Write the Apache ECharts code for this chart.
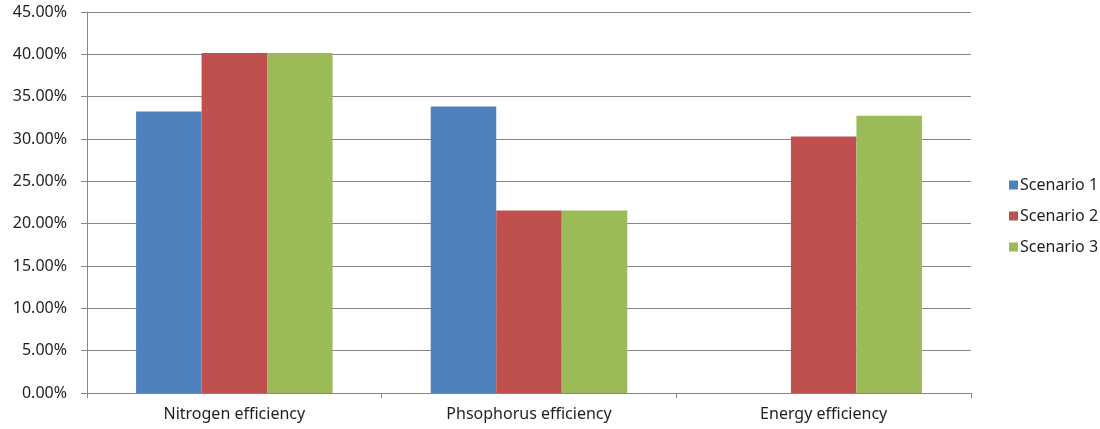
<!DOCTYPE html>
<html>
<head>
<meta charset="utf-8">
<script src="https://cdn.jsdelivr.net/npm/echarts@6/dist/echarts.min.js"></script>
<style>html,body{margin:0;padding:0;background:#fff}#c{width:1100px;height:429px}</style>
</head>
<body>
<div id="c"></div>
<script>
const categories = ['Nitrogen efficiency', 'Phsophorus efficiency', 'Energy efficiency'];
const seriesNames = ['Scenario 1', 'Scenario 2', 'Scenario 3'];
const scenario1 = [33.25, 33.85, null];
const scenario2 = [40.15, 21.55, 30.3];
const scenario3 = [40.15, 21.55, 32.75];
const colors = ['#4F81BD', '#C0504D', '#9BBB59'];
const font = 'Noto Sans';

const chart = echarts.init(document.getElementById('c'), null, {renderer: 'canvas'});
const data = [scenario1, scenario2, scenario3];
chart.setOption({
  animation: false,
  color: colors,
  textStyle: {fontFamily: font},
  grid: {left: 87, right: 129, top: 12, bottom: 36, containLabel: false},
  legend: {
    orient: 'vertical', left: 1004, top: 172,
    itemWidth: 9, itemHeight: 9, itemGap: 15, icon: 'rect',
    textStyle: {fontFamily: font, fontSize: 16, color: '#1f1f1f', padding: [0, 0, 0, -3]},
    data: seriesNames
  },
  xAxis: {
    type: 'category', data: categories,
    axisLine: {lineStyle: {color: '#868686', width: 1}},
    axisTick: {show: true, length: 5, lineStyle: {color: '#868686'}},
    axisLabel: {fontFamily: font, fontSize: 16, color: '#1f1f1f', margin: 13}
  },
  yAxis: {
    type: 'value', min: 0, max: 45, interval: 5,
    axisLine: {show: true, lineStyle: {color: '#868686', width: 1}},
    axisTick: {show: true, length: 6, lineStyle: {color: '#868686'}},
    splitLine: {lineStyle: {color: '#868686', width: 1}},
    axisLabel: {fontFamily: font, fontSize: 16, color: '#1f1f1f', margin: 20,
      formatter: v => v.toFixed(2) + '%'}
  },
  series: seriesNames.map((n, i) => ({
    name: n, type: 'bar', data: data[i],
    barGap: '0%', barCategoryGap: '33.3%'
  }))
});
</script>
</body>
</html>
